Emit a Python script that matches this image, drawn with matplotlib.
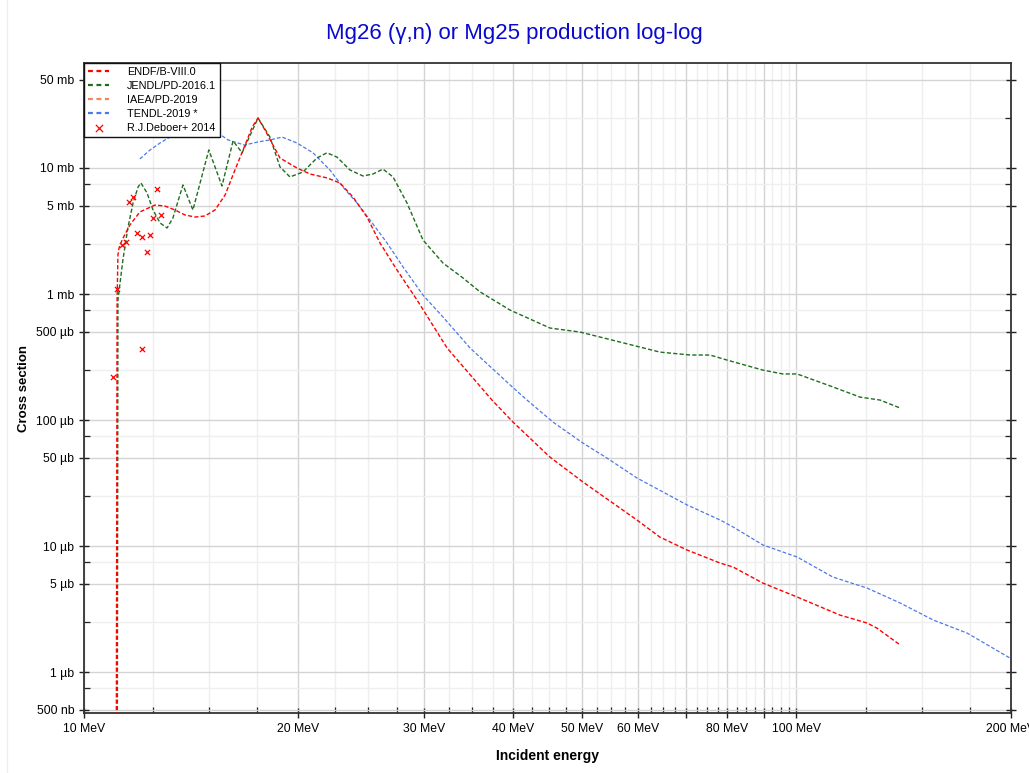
"""Mg26 (g,n) cross section, log-log."""

import matplotlib.pyplot as plt
from matplotlib.lines import Line2D
from matplotlib.ticker import FixedLocator, FuncFormatter

plt.rcParams['font.family'] = ['Liberation Sans', 'DejaVu Sans']

# energies in MeV, cross sections in mb
endf_e = [11.09, 11.13, 11.16, 11.20, 11.31, 11.60, 11.98, 12.58, 12.99,
          13.42, 13.86, 14.32, 14.78, 15.27, 15.78, 16.29, 16.83, 17.22,
          17.55, 17.95, 18.84, 19.90, 20.76, 21.93, 22.87, 23.85, 24.96,
          26.03, 27.50, 29.34, 32.33, 37.38, 40.0, 45.08, 50.16, 59.7,
          64.3, 70.2, 78.1, 81.5, 89.7, 100.2, 115.1, 125.6, 129.7, 139.8]
endf_xs = [1e-5, 0.896, 2.04, 2.32, 2.68, 3.53, 4.48, 5.08, 4.99,
           4.64, 4.24, 4.08, 4.16, 4.64, 6.11, 9.64, 15.2, 21.1,
           24.9, 20.0, 12.0, 10.0, 8.96, 8.34, 7.61, 5.89, 4.08,
           2.54, 1.55, 0.896, 0.373, 0.144, 0.0964, 0.0508, 0.0322, 0.0161,
           0.01178, 0.0093, 0.00733, 0.00681, 0.00508, 0.00394, 0.00283,
           0.00245, 0.00223, 0.00164]

jendl_e = [11.13, 11.16, 11.34, 11.53, 11.72, 11.91, 12.02, 12.26, 12.50,
           12.79, 13.08, 13.33, 13.77, 14.22, 14.97, 15.62, 16.19, 16.67,
           17.55, 18.24, 18.84, 19.46, 20.29, 21.23, 21.93, 22.65, 23.62,
           24.64, 25.45, 26.28, 27.15, 28.40, 29.91, 31.91, 34.04, 35.96,
           39.62, 45.08, 49.68, 56.5, 64.3, 70.9, 75.6, 79.9, 89.7, 95.7,
           100.2, 112.5, 122.8, 131.0, 139.8]
jendl_xs = [1e-5, 0.896, 1.86, 3.40, 5.28, 7.06, 7.61, 6.34, 4.64,
            3.66, 3.34, 4.01, 7.33, 4.64, 13.9, 7.20, 16.4, 13.2,
            24.9, 17.6, 10.2, 8.49, 9.29, 12.0, 13.2, 12.2, 9.64,
            8.64, 8.96, 9.8, 8.49, 5.28, 2.68, 1.76, 1.34, 1.04,
            0.746, 0.537, 0.499, 0.416, 0.346, 0.328, 0.328, 0.299, 0.249,
            0.232, 0.232, 0.183, 0.152, 0.144, 0.1245]

tendl_e = [11.98, 12.38, 12.79, 13.20, 13.86, 14.55, 15.27, 15.93, 16.8,
           17.55, 18.24, 18.97, 19.90, 20.96, 22.14, 23.09, 24.16, 25.20,
           26.63, 28.04, 29.91, 31.91, 34.82, 39.62, 41.86, 45.51, 50.16,
           54.2, 59.7, 70.2, 78.1, 81.5, 89.7, 100.2, 112.5, 125.6, 139.8,
           155.5, 173.5, 199.4]
tendl_xs = [11.8, 13.9, 15.8, 17.6, 19.3, 20.0, 19.7, 16.7, 15.2,
            16.1, 16.7, 17.6, 15.8, 13.2, 9.64, 7.06, 5.28, 3.87,
            2.54, 1.64, 0.98, 0.656, 0.373, 0.19, 0.144, 0.0964, 0.0656,
            0.0499, 0.0347, 0.0212, 0.0161, 0.01415, 0.0102, 0.00818,
            0.00567, 0.00464, 0.00353, 0.00259, 0.00204, 0.00129]

exp_e = [10.98, 11.13, 11.31, 11.45, 11.57, 11.72, 11.87, 12.06, 12.06,
         12.26, 12.38, 12.50, 12.66, 12.83]
exp_xs = [0.219, 1.10, 2.45, 2.59, 5.37, 5.89, 3.05, 2.83, 0.366,
          2.15, 2.94, 4.01, 6.81, 4.24]

x_major = [10, 20, 30, 40, 50, 60, 70, 80, 90, 100, 200]
x_labels = {10: '10 MeV', 20: '20 MeV', 30: '30 MeV', 40: '40 MeV',
            50: '50 MeV', 60: '60 MeV', 80: '80 MeV', 100: '100 MeV',
            200: '200 MeV'}
y_labels = {5e-4: '500 nb', 1e-3: '1 µb', 5e-3: '5 µb', 1e-2: '10 µb',
            5e-2: '50 µb', 1e-1: '100 µb', 5e-1: '500 µb', 1.0: '1 mb',
            5.0: '5 mb', 10.0: '10 mb', 50.0: '50 mb'}

fig = plt.figure(figsize=(10.29, 7.73), dpi=100)
ax = fig.add_axes([0.0816, 0.0776, 0.9009, 0.8409])
fig.add_artist(Line2D([7 / 1029, 7 / 1029], [0, 1], color='#eeeeee', lw=1))

dash = (0, (3, 1.6))
ax.plot(endf_e, endf_xs, color='#ff0000', lw=1, ls=dash, zorder=4,
        label='ENDF/B-VIII.0')
ax.plot(jendl_e, jendl_xs, color='#1e6e1e', lw=1, ls=dash, zorder=3,
        label='JENDL/PD-2016.1')
ax.plot([], [], color='#f4845f', lw=1, ls=dash, label='IAEA/PD-2019')
ax.plot(tendl_e, tendl_xs, color='#4d79e6', lw=0.9, ls=dash, zorder=2,
        label='TENDL-2019 *')
ax.scatter(exp_e, exp_xs, marker='x', color='#ff0000', s=14, lw=0.9,
           zorder=5, label='R.J.Deboer+ 2014')

ax.set_xscale('log')
ax.set_yscale('log')
ax.set_xlim(10, 200)
ax.set_ylim(4.73e-4, 68.1)

# ticks
x_minor = [v for v in [10 + 2.5 * i for i in range(37)] if v not in x_major]
x_minor += [125, 150, 175]
ax.xaxis.set_major_locator(FixedLocator(x_major))
ax.xaxis.set_minor_locator(FixedLocator(x_minor))
ax.xaxis.set_major_formatter(FuncFormatter(lambda v, p: x_labels.get(round(v), '')))
ax.xaxis.set_minor_formatter(FuncFormatter(lambda v, p: ''))

y_major = list(y_labels.keys())
y_minor = [m * 10.0 ** k for k in range(-4, 3) for m in (2.5, 7.5)]
ax.yaxis.set_major_locator(FixedLocator(y_major))
ax.yaxis.set_minor_locator(FixedLocator(y_minor))
ax.yaxis.set_major_formatter(FuncFormatter(
    lambda v, p: next((s for k, s in y_labels.items() if abs(v / k - 1) < 1e-6), '')))
ax.yaxis.set_minor_formatter(FuncFormatter(lambda v, p: ''))

ax.tick_params(which='major', direction='inout', length=7, width=1,
               labelsize=8.8, top=False, right=True, color='#222222')
ax.tick_params(which='minor', direction='in', length=4, width=0.9,
               top=False, right=True, color='#222222')
ax.tick_params(axis='x', which='major', pad=4)

ax.grid(which='major', color='#d4d4d4', lw=1)
ax.grid(which='minor', color='#efefef', lw=1)
ax.set_axisbelow(True)
for s in ax.spines.values():
    s.set_color('#333333')
    s.set_linewidth(1.3)

ax.set_xlabel('Incident energy', fontsize=10, fontweight='bold', labelpad=10)
ax.set_ylabel('Cross section', fontsize=9.5, fontweight='bold', labelpad=0)
ax.yaxis.set_label_coords(-0.058, 0.5)
fig.suptitle('Mg26 (γ,n) or Mg25 production log-log', color='#0a0acd',
             fontsize=16, y=0.97)

leg = ax.legend(loc='upper left', borderaxespad=0, fontsize=7.8,
                fancybox=False, edgecolor='#111111', framealpha=1,
                handlelength=2.0, labelspacing=0.38, borderpad=0.35,
                handletextpad=1.6, scatterpoints=1, markerscale=1.4)
leg.get_frame().set_linewidth(1)
for h in leg.get_lines():
    h.set_linewidth(1.6)
    h.set_linestyle((0, (2.2, 1.6)))

plt.savefig('out.png', dpi=100)
